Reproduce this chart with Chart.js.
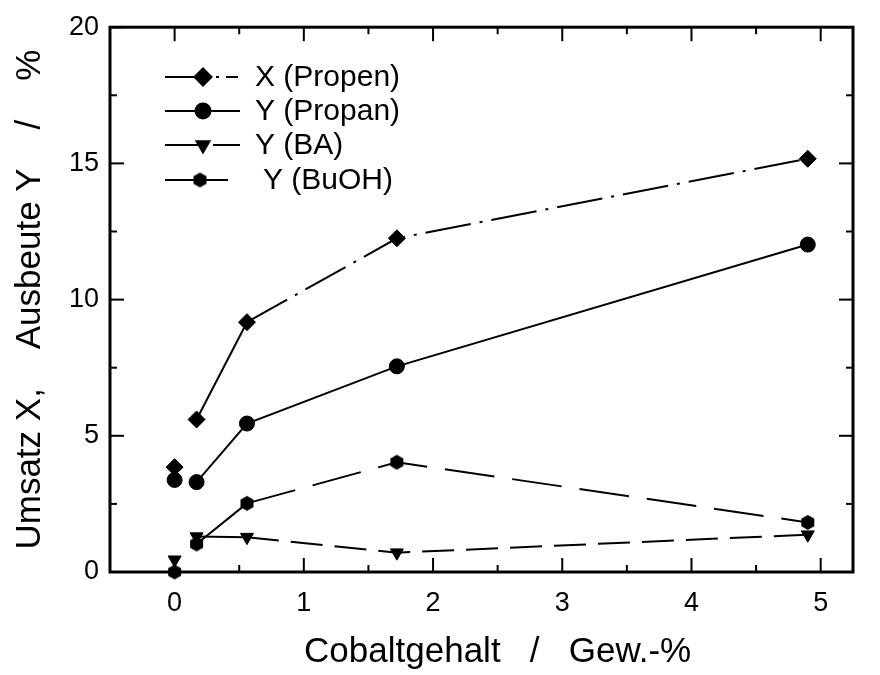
<!DOCTYPE html>
<html>
<head>
<meta charset="utf-8">
<script src="https://cdn.jsdelivr.net/npm/chart.js@4/dist/chart.umd.min.js"></script>
<style>
  html, body { margin: 0; padding: 0; background: #fff; }
  #wrap { width: 880px; height: 675px; }
</style>
</head>
<body>
<div id="wrap"><canvas id="chart" width="880" height="675"></canvas></div>
<script>
// Cobalt loading (wt-%) and the measured conversion / yields (%)
const cobalt = [0, 0.17, 0.56, 1.72, 4.9];
const convPropen = [3.85, 5.6, 9.17, 12.25, 15.17];
const yieldPropan = [3.38, 3.3, 5.45, 7.55, 12.02];
const yieldBA = [0.45, 1.3, 1.28, 0.71, 1.37];
const yieldBuOH = [0, 1.03, 2.52, 4.03, 1.82];

const seriesNames = ['X (Propen)', 'Y (Propan)', 'Y (BA)', 'Y (BuOH)'];

const xTicks = [0, 1, 2, 3, 4, 5];
const xMinorTicks = [0.5, 1.5, 2.5, 3.5, 4.5];
const yTicks = [0, 5, 10, 15, 20];
const yMinorTicks = [2.5, 7.5, 12.5, 17.5];

const xTitle = 'Cobaltgehalt   /   Gew.-%';
const yTitle = 'Umsatz X,    Ausbeute Y    /    %';

const FONT = "'Liberation Sans', Arial, Helvetica, sans-serif";

// small filled hexagon used as marker for BuOH
function hexMarker(r) {
    const c = document.createElement('canvas');
    const s = Math.ceil(r * 2 + 2);
    c.width = s; c.height = s;
    const g = c.getContext('2d');
    g.fillStyle = '#000';
    g.beginPath();
    for (let i = 0; i < 6; i++) {
        const a = Math.PI / 2 + i * Math.PI / 3;
        const px = s / 2 + r * Math.cos(a);
        const py = s / 2 - r * Math.sin(a);
        if (i === 0) g.moveTo(px, py); else g.lineTo(px, py);
    }
    g.closePath();
    g.fill();
    return c;
}
const hex = hexMarker(7.5);

const markers = [
    { pointStyle: 'rectRot', radius: 8.5, rotation: 0 },
    { pointStyle: 'circle', radius: 7.5, rotation: 0 },
    { pointStyle: 'triangle', radius: 7.5, rotation: 180 },
    { pointStyle: hex, radius: 7.5, rotation: 0 }
];
const dashes = [[46, 9, 3, 9], [], [32, 12], [50, 18]];

// first point (no cobalt) stands alone, next segment is solid, the rest carries the series dash
function makeSet(label, data, i) {
    return {
        label: label,
        data: cobalt.map((c, k) => ({ x: c, y: data[k] })),
        borderColor: '#000',
        backgroundColor: '#000',
        borderWidth: 2,
        pointStyle: markers[i].pointStyle,
        pointRadius: markers[i].radius,
        pointRotation: markers[i].rotation,
        pointBorderWidth: 1,
        pointBackgroundColor: '#000',
        pointBorderColor: '#000',
        tension: 0,
        clip: false,
        segment: {
            borderColor: ctx => ctx.p0DataIndex === 0 ? 'rgba(0,0,0,0)' : '#000',
            borderDash: ctx => ctx.p0DataIndex <= 1 ? [] : dashes[i]
        }
    };
}

function line(ctx, x0, y0, x1, y1, dash) {
    ctx.setLineDash(dash || []);
    ctx.beginPath();
    ctx.moveTo(x0, y0);
    ctx.lineTo(x1, y1);
    ctx.stroke();
}

// box frame with inward ticks on all four sides, plus the x axis caption
const frame = {
    id: 'frame',
    beforeDatasetsDraw(chart) {
        const { ctx, chartArea: a, scales: { x, y } } = chart;
        ctx.save();
        ctx.strokeStyle = '#000';
        ctx.lineWidth = 2;
        const major = 14, minor = 7;
        xTicks.forEach(v => {
            const p = x.getPixelForValue(v);
            line(ctx, p, a.bottom, p, a.bottom - major);
            line(ctx, p, a.top, p, a.top + major);
        });
        xMinorTicks.forEach(v => {
            const p = x.getPixelForValue(v);
            line(ctx, p, a.bottom, p, a.bottom - minor);
            line(ctx, p, a.top, p, a.top + minor);
        });
        yTicks.forEach(v => {
            const p = y.getPixelForValue(v);
            line(ctx, a.left, p, a.left + major, p);
            line(ctx, a.right, p, a.right - major, p);
        });
        yMinorTicks.forEach(v => {
            const p = y.getPixelForValue(v);
            line(ctx, a.left, p, a.left + minor, p);
            line(ctx, a.right, p, a.right - minor, p);
        });
        ctx.lineWidth = 3;
        ctx.setLineDash([]);
        ctx.strokeRect(a.left, a.top, a.right - a.left, a.bottom - a.top);

        ctx.fillStyle = '#000';
        ctx.font = '35px ' + FONT;
        ctx.textAlign = 'center';
        ctx.textBaseline = 'middle';
        ctx.fillText(xTitle, x.getPixelForValue(2.5), 652);
        ctx.restore();
    }
};

// legend: solid lead-in, marker, then a short piece in the series' dash
const legendBox = {
    id: 'legendBox',
    afterDatasetsDraw(chart) {
        const ctx = chart.ctx;
        const rows = [77, 111, 145, 180];
        const rightEnd = [238, 240, 240, 228];
        const textX = [255, 255, 255, 263];
        ctx.save();
        ctx.strokeStyle = '#000';
        ctx.fillStyle = '#000';
        ctx.lineWidth = 2;
        rows.forEach((ry, i) => {
            const mx = i === 3 ? 200 : 203;
            line(ctx, 165, ry, mx, ry);
            if (i === 0) {
                line(ctx, 216, ry, 219, ry);
                line(ctx, 226, ry, rightEnd[i], ry);
            } else {
                line(ctx, mx, ry, rightEnd[i], ry, i === 2 ? [0, 10, 40] : []);
            }
            ctx.setLineDash([]);
            Chart.helpers.drawPoint(ctx, {
                pointStyle: markers[i].pointStyle,
                radius: markers[i].radius,
                rotation: markers[i].rotation,
                borderWidth: 1
            }, mx, ry);
            ctx.font = '30px ' + FONT;
            ctx.textBaseline = 'middle';
            ctx.textAlign = 'left';
            ctx.fillText(seriesNames[i], textX[i], ry + 1);
        });
        ctx.restore();
    }
};

Chart.defaults.color = '#000';
Chart.defaults.font.family = FONT;

new Chart(document.getElementById('chart'), {
    type: 'line',
    data: {
        datasets: [
            makeSet(seriesNames[0], convPropen, 0),
            makeSet(seriesNames[1], yieldPropan, 1),
            makeSet(seriesNames[2], yieldBA, 2),
            makeSet(seriesNames[3], yieldBuOH, 3)
        ]
    },
    options: {
        responsive: false,
        animation: false,
        layout: { padding: { top: 20, right: 27, left: 0, bottom: 0 } },
        plugins: { legend: { display: false }, tooltip: { enabled: false } },
        scales: {
            x: {
                type: 'linear',
                min: -0.5,
                max: 5.25,
                afterFit: s => { s.height = 103; },
                afterBuildTicks: s => { s.ticks = xTicks.map(v => ({ value: v })); },
                grid: { display: false, drawTicks: false },
                border: { display: false },
                ticks: { padding: 15, font: { size: 27 }, maxRotation: 0 },
                title: { display: false, text: xTitle }
            },
            y: {
                type: 'linear',
                min: 0,
                max: 20,
                afterFit: s => { s.width = 110; },
                afterBuildTicks: s => { s.ticks = yTicks.map(v => ({ value: v })); },
                grid: { display: false, drawTicks: false },
                border: { display: false },
                ticks: { padding: 11, font: { size: 27 } },
                title: {
                    display: true,
                    text: yTitle,
                    font: { size: 35 },
                    padding: { top: 9 }
                }
            }
        }
    },
    plugins: [frame, legendBox]
});
</script>
</body>
</html>
